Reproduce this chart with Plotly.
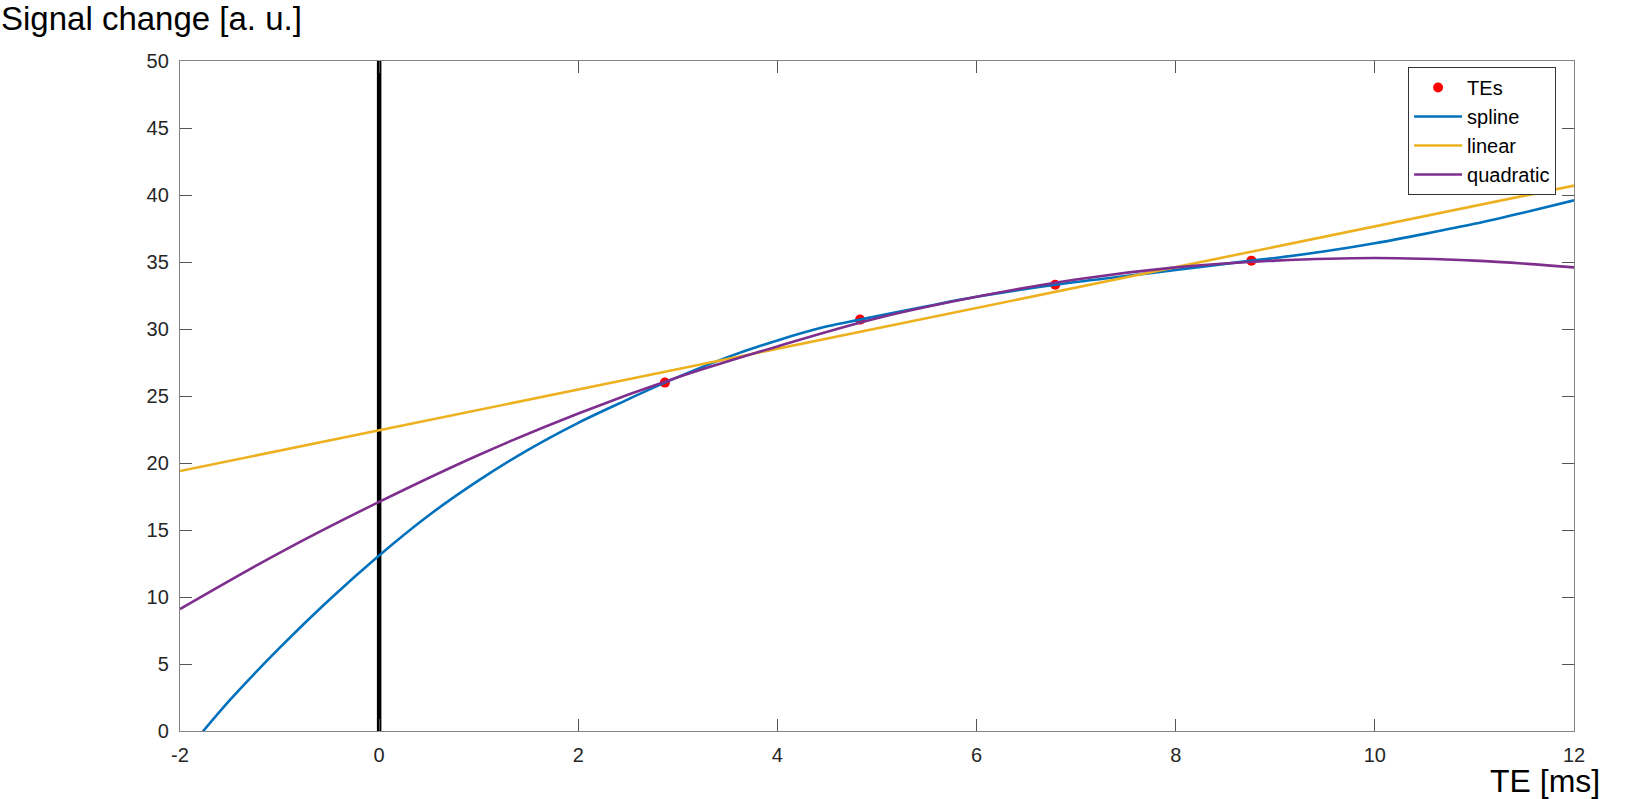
import plotly.graph_objects as go

# echo times and measured signal
te = [2.87, 4.83, 6.79, 8.76]
signal = [26.0, 30.7, 33.3, 35.1]

# fitted curves
spline_x = [-2.0, -1.5, -1.0, -0.5, 0.0, 0.5, 1.0, 1.5, 2.0, 2.5, 2.87, 3.5, 4.0, 4.5, 4.83,
            5.5, 6.0, 6.79, 7.5, 8.0, 8.76, 9.0, 9.5, 10.0, 10.5, 11.0, 11.5, 12.0]
spline_y = [-2.1, 2.3, 6.2, 9.8, 13.1, 16.1, 18.7, 21.0, 23.0, 24.75, 26.0, 27.9, 29.15, 30.2, 30.7,
            31.7, 32.4, 33.3, 33.95, 34.4, 35.1, 35.3, 35.8, 36.4, 37.1, 37.85, 38.7, 39.6]

linear_x = [-2.0, 12.0]
linear_y = [19.4, 40.7]

quad_x = [-2, -1, 0, 1, 2, 3, 4, 5, 6, 7, 8, 9, 10, 11, 12]
quad_y = [9.1, 13.3, 17.1, 20.6, 23.7, 26.4, 28.7, 30.8, 32.4, 33.7, 34.6, 35.1, 35.3, 35.1, 34.6]

x_ticks = [-2, 0, 2, 4, 6, 8, 10, 12]
x_ticktext = ["-2", "0", "2", "4", "6", "8", "10", "12"]
y_ticks = [0, 5, 10, 15, 20, 25, 30, 35, 40, 45, 50]

FONT = "Liberation Sans, Arial, sans-serif"
AXCOL = "#858585"

fig = go.Figure()

# vertical line at TE = 0
fig.add_trace(go.Scatter(x=[0, 0], y=[0, 50], mode="lines",
                         line=dict(color="black", width=4.5),
                         showlegend=False, hoverinfo="skip"))

fig.add_trace(go.Scatter(x=te, y=signal, mode="markers", name="TEs",
                         marker=dict(color="#ff0000", size=10)))
fig.add_trace(go.Scatter(x=spline_x, y=spline_y, mode="lines", name="spline",
                         line=dict(color="#0072BD", width=2.6, shape="spline")))
fig.add_trace(go.Scatter(x=linear_x, y=linear_y, mode="lines", name="linear",
                         line=dict(color="#EDB120", width=2.6)))
fig.add_trace(go.Scatter(x=quad_x, y=quad_y, mode="lines", name="quadratic",
                         line=dict(color="#7E2F8E", width=2.6, shape="spline")))

axis_common = dict(showgrid=False, zeroline=False, showline=True, mirror="ticks",
                   linecolor=AXCOL, linewidth=1.3, ticks="inside", ticklen=12,
                   tickcolor="#555555", tickwidth=1,
                   tickfont=dict(family=FONT, size=20, color="#262626"))

fig.update_xaxes(range=[-2, 12], tickvals=x_ticks, ticktext=x_ticktext,
                 ticklabelstandoff=6, **axis_common)
fig.update_yaxes(range=[0, 50], tickvals=y_ticks,
                 ticklabelstandoff=6, **axis_common)

fig.update_layout(
    width=1627, height=799,
    margin=dict(l=180, r=53, t=61, b=68),
    plot_bgcolor="white", paper_bgcolor="white",
    font=dict(family=FONT, color="black"),
    showlegend=True,
    legend=dict(x=0.881, y=0.991, xanchor="left", yanchor="top",
                bgcolor="white", bordercolor="#333333", borderwidth=1,
                itemwidth=48,
                font=dict(family=FONT, size=20, color="black")),
    annotations=[
        dict(text="Signal change [a. u.]", xref="paper", yref="paper",
             x=0, y=1, xshift=-181, yshift=43, xanchor="left", yanchor="middle",
             showarrow=False, font=dict(family=FONT, size=33, color="black")),
        dict(text="TE [ms]", xref="paper", yref="paper",
             x=1, y=0, xshift=28, yshift=-50, xanchor="right", yanchor="middle",
             showarrow=False, font=dict(family=FONT, size=32, color="black")),
    ],
)

fig.write_html("out.html", config={"displayModeBar": False},
               post_script="document.body.style.margin='0px';")
